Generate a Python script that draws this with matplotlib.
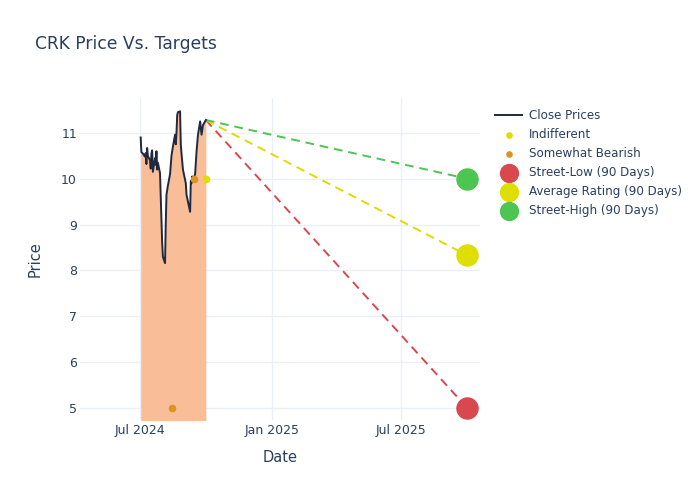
import numpy as np
import pandas as pd
import matplotlib
matplotlib.use("Agg")
import matplotlib.pyplot as plt
import matplotlib.dates as mdates

# price data
close_dates = ["2024-07-02", "2024-07-03", "2024-07-05", "2024-07-08", "2024-07-09",
               "2024-07-10", "2024-07-11", "2024-07-12", "2024-07-15", "2024-07-16",
               "2024-07-17", "2024-07-18", "2024-07-19", "2024-07-22", "2024-07-23",
               "2024-07-24", "2024-07-25", "2024-07-26", "2024-07-29", "2024-07-30",
               "2024-07-31", "2024-08-01", "2024-08-02", "2024-08-05", "2024-08-06",
               "2024-08-07", "2024-08-09", "2024-08-12", "2024-08-14", "2024-08-16",
               "2024-08-19", "2024-08-20", "2024-08-21", "2024-08-22", "2024-08-23",
               "2024-08-26", "2024-08-27", "2024-08-28", "2024-08-30", "2024-09-03",
               "2024-09-04", "2024-09-06", "2024-09-09", "2024-09-10", "2024-09-11",
               "2024-09-12", "2024-09-13", "2024-09-16", "2024-09-18", "2024-09-20",
               "2024-09-23", "2024-09-25", "2024-09-27", "2024-10-01"]
close_prices = [10.90, 10.58, 10.55, 10.48, 10.56, 10.32, 10.67, 10.50, 10.40, 10.22,
                10.55, 10.62, 10.15, 10.45, 10.30, 10.60, 10.20, 10.35, 10.12, 9.60,
                9.10, 8.60, 8.30, 8.16, 9.00, 9.65, 9.85, 10.10, 10.50, 10.70,
                10.96, 10.75, 11.00, 11.39, 11.45, 11.47, 10.74, 10.55, 10.20, 9.90,
                9.65, 9.50, 9.28, 9.95, 9.90, 10.05, 9.95, 10.10, 10.60, 10.96,
                11.25, 10.96, 11.17, 11.28]

indiff_dates = ["2024-10-01"]
indiff_prices = [10.0]
bearish_dates = ["2024-08-15", "2024-09-15"]
bearish_prices = [5.0, 10.0]

target_date = "2025-10-01"
street_low = 5.0
avg_rating = 8.33
street_high = 10.0

dates = pd.to_datetime(close_dates)
td = pd.Timestamp(target_date)
last_d = dates[-1]
last_p = close_prices[-1]

text_c = "#2a3f5f"
plt.rcParams["font.family"] = "DejaVu Sans"

fig = plt.figure(figsize=(7, 5), dpi=100)
ax = fig.add_axes([0.114, 0.16, 0.572, 0.644])

ylo, yhi = 4.74, 11.76
ax.fill_between(dates, close_prices, ylo - 1, color="#f9bd98", lw=0, zorder=1)
ax.plot(dates, close_prices, color="#1f2940", lw=1.4, zorder=3, label="Close Prices")

dash = (0, (4.5, 3))
ax.plot([last_d, td], [last_p, street_low], ls=dash, color="#d9474f", lw=1.4, zorder=2)
ax.plot([last_d, td], [last_p, avg_rating], ls=dash, color="#dcdc00", lw=1.4, zorder=2)
ax.plot([last_d, td], [last_p, street_high], ls=dash, color="#4cc552", lw=1.4, zorder=2)

ax.scatter(pd.to_datetime(indiff_dates), indiff_prices, s=20, color="#dede00", zorder=4,
           label="Indifferent")
ax.scatter(pd.to_datetime(bearish_dates), bearish_prices, s=20, color="#dd9425", zorder=4,
           label="Somewhat Bearish")
ax.scatter([td], [street_low], s=230, color="#d9474f", zorder=5, label="Street-Low (90 Days)")
ax.scatter([td], [avg_rating], s=230, color="#dede00", zorder=5, label="Average Rating (90 Days)")
ax.scatter([td], [street_high], s=230, color="#4cc552", zorder=5, label="Street-High (90 Days)")

ax.set_xlim(pd.Timestamp("2024-04-08"), pd.Timestamp("2025-10-19"))
ax.set_ylim(ylo, yhi)
ax.set_yticks([5, 6, 7, 8, 9, 10, 11])
ax.set_xticks(pd.to_datetime(["2024-07-01", "2025-01-01", "2025-07-01"]))
ax.xaxis.set_major_formatter(mdates.DateFormatter("%b %Y"))
ax.grid(True, color="#ebf0f8", lw=1, zorder=0)
ax.set_axisbelow(True)
for s in ax.spines.values():
    s.set_visible(False)
ax.tick_params(length=0, labelsize=9, colors=text_c)
ax.tick_params(axis="x", pad=3)
ax.tick_params(axis="y", pad=2)
ax.set_xlabel("Date", fontsize=10.5, color=text_c, labelpad=9)
ax.set_ylabel("Price", fontsize=10.5, color=text_c, labelpad=13)

fig.text(0.05, 0.912, "CRK Price Vs. Targets", fontsize=12.3, color=text_c, va="center")

leg = fig.legend(loc="upper left", bbox_to_anchor=(0.700, 0.791), frameon=False,
                 fontsize=8.6, labelspacing=0.5, handlelength=2.3, handletextpad=0.55,
                 borderaxespad=0, markerscale=0.85)
for t in leg.get_texts():
    t.set_color(text_c)

fig.savefig("out.png", dpi=100)
